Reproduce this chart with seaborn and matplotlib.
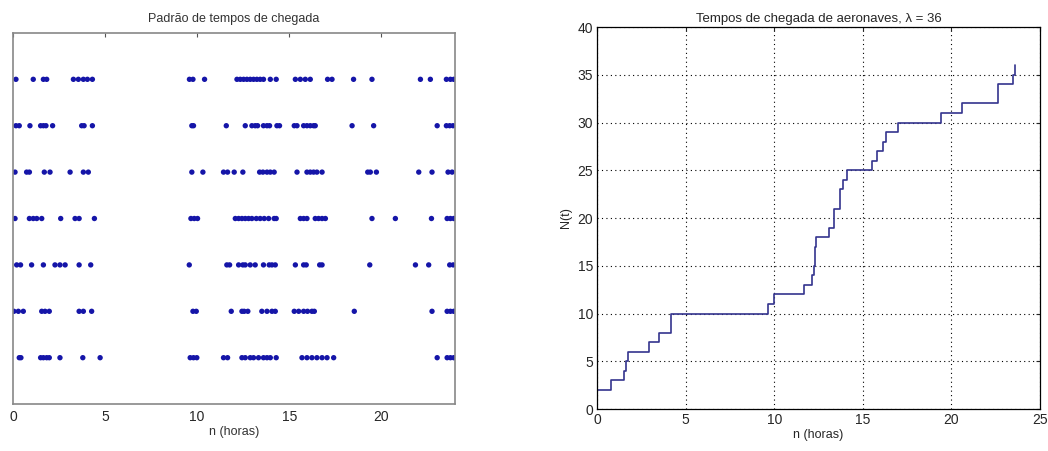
import numpy as np
import pandas as pd
import matplotlib
matplotlib.use("Agg")
import matplotlib.pyplot as plt
import seaborn as sns

# ----------------------------------------
# Dados
# ----------------------------------------
# tempos de chegada (horas) para cada uma das 7 linhas (de baixo para cima)
linha1 = [0.34, 0.43, 1.5, 1.65, 1.83, 1.97, 2.55, 3.79, 4.73, 9.62, 9.8, 9.98, 11.43, 11.65,
          12.43, 12.61, 12.88, 13.06, 13.33, 13.6, 13.79, 13.97, 14.29, 15.69, 15.96, 16.23,
          16.5, 16.78, 17.05, 17.41, 23.03, 23.57, 23.75, 23.93]
linha2 = [0.05, 0.29, 0.56, 1.56, 1.74, 1.97, 3.59, 3.82, 4.27, 9.77, 9.95, 11.85, 12.43, 12.55,
          12.75, 13.51, 13.79, 14.06, 14.24, 15.27, 15.51, 15.78, 15.99, 16.23, 16.36, 18.53,
          22.75, 23.57, 23.75, 23.93]
linha3 = [0.2, 0.41, 1.01, 1.65, 2.28, 2.55, 2.83, 3.59, 4.22, 9.57, 11.61, 11.76, 12.25, 12.48,
          12.61, 12.88, 13.15, 13.6, 13.91, 14.06, 14.24, 15.33, 15.78, 15.92, 16.65, 16.78,
          19.37, 21.85, 22.57, 23.71, 23.9]
linha4 = [0.11, 0.89, 1.1, 1.29, 1.56, 2.59, 3.37, 3.59, 4.42, 9.66, 9.84, 10.02, 12.07, 12.25,
          12.43, 12.61, 12.79, 12.97, 13.21, 13.42, 13.64, 13.88, 14.18, 14.29, 15.6, 15.78,
          15.96, 16.41, 16.59, 16.78, 16.96, 19.49, 20.76, 22.72, 23.57, 23.75, 23.93]
linha5 = [0.11, 0.74, 0.89, 1.70, 2.01, 3.10, 3.82, 4.09, 9.71, 10.31, 11.43, 11.65, 12.01, 12.48,
          13.39, 13.57, 13.79, 13.97, 14.18, 15.42, 15.96, 16.14, 16.32, 16.5, 16.78, 19.26,
          19.4, 19.73, 22.03, 22.75, 23.62, 23.84]
linha6 = [0.16, 0.34, 0.92, 1.5, 1.65, 1.79, 2.15, 3.73, 3.86, 4.31, 9.71, 9.8, 11.58, 12.61,
          12.97, 13.15, 13.28, 13.6, 13.79, 13.93, 14.33, 14.47, 15.27, 15.42, 15.78, 15.96,
          16.14, 16.32, 16.41, 18.41, 19.58, 23.03, 23.53, 23.71, 23.89]
linha7 = [0.16, 1.1, 1.65, 1.83, 3.28, 3.55, 3.82, 4.04, 4.31, 9.58, 9.77, 10.4, 12.16, 12.34,
          12.52, 12.7, 12.88, 13.06, 13.24, 13.42, 13.6, 13.97, 14.29, 15.33, 15.6, 15.87,
          16.14, 17.08, 17.32, 18.49, 19.49, 22.12, 22.66, 23.53, 23.75, 23.93]
linhas = [linha1, linha2, linha3, linha4, linha5, linha6, linha7]

# processo de contagem N(t)
t_chegada = [0, 0.77, 1.54, 1.62, 1.77, 2.94, 3.50, 4.18, 9.64, 10.0, 11.66, 12.13, 12.25,
             12.30, 12.33, 13.10, 13.36, 13.69, 13.88, 14.10, 15.50, 15.78, 16.16, 16.31,
             17.01, 19.42, 20.60, 22.61, 23.49, 23.58]
n_chegada = [2, 3, 4, 5, 6, 7, 8, 10, 11, 12, 13, 14, 15, 17, 18, 19, 21, 23, 24, 25, 26,
             27, 28, 29, 30, 31, 32, 34, 35, 36]

sns.set_style("white")
plt.rcParams["font.family"] = ["Liberation Sans", "DejaVu Sans"]
plt.rcParams["font.size"] = 9

fig = plt.figure(figsize=(10.48, 4.51), dpi=100)
ax1 = fig.add_axes([0.0124, 0.104, 0.4218, 0.823])
ax2 = fig.add_axes([0.5697, 0.093, 0.4227, 0.847])

# ----------------------------------------
# Padrão de tempos de chegada
# ----------------------------------------
pontos = pd.DataFrame({
    "t": [t for linha in linhas for t in linha],
    "k": [i + 1 for i, linha in enumerate(linhas) for _ in linha],
})
sns.scatterplot(data=pontos, x="t", y="k", ax=ax1, color="#1515a8",
                marker="o", s=15, edgecolor="none", legend=False)
ax1.set_xlim(0, 24)
ax1.set_ylim(0, 8)
ax1.set_xticks([0, 5, 10, 15, 20])
ax1.set_yticks([])
ax1.set_title("Padrão de tempos de chegada", fontsize=9, color="#333333", pad=8)
ax1.set_xlabel("n (horas)", fontsize=9, color="#333333", labelpad=2)
ax1.set_ylabel("")
for s in ax1.spines.values():
    s.set_color("#888888")
    s.set_linewidth(1.2)
ax1.tick_params(axis="x", direction="in", length=3, top=True, labelsize=10,
                color="#555555", pad=4)

# ----------------------------------------
# Tempos de chegada de aeronaves
# ----------------------------------------
passos = pd.DataFrame({"t": t_chegada, "n": n_chegada})
sns.lineplot(data=passos, x="t", y="n", ax=ax2, drawstyle="steps-post",
             estimator=None, sort=False, color="#34348e", linewidth=1.2)
ax2.set_xlim(0, 25)
ax2.set_ylim(0, 40)
ax2.set_xticks(range(0, 26, 5))
ax2.set_yticks(range(0, 41, 5))
ax2.grid(True, color="black", linestyle=(0, (1, 3)), linewidth=0.8)
ax2.set_title("Tempos de chegada de aeronaves, λ = 36", fontsize=9.5, pad=4)
ax2.set_xlabel("n (horas)", fontsize=9, labelpad=1)
ax2.set_ylabel("N(t)", fontsize=9, labelpad=4)
for s in ax2.spines.values():
    s.set_color("black")
    s.set_linewidth(0.9)
ax2.tick_params(direction="in", length=3, top=True, right=True, labelsize=10, pad=3)

fig.savefig("out.png", dpi=100)
